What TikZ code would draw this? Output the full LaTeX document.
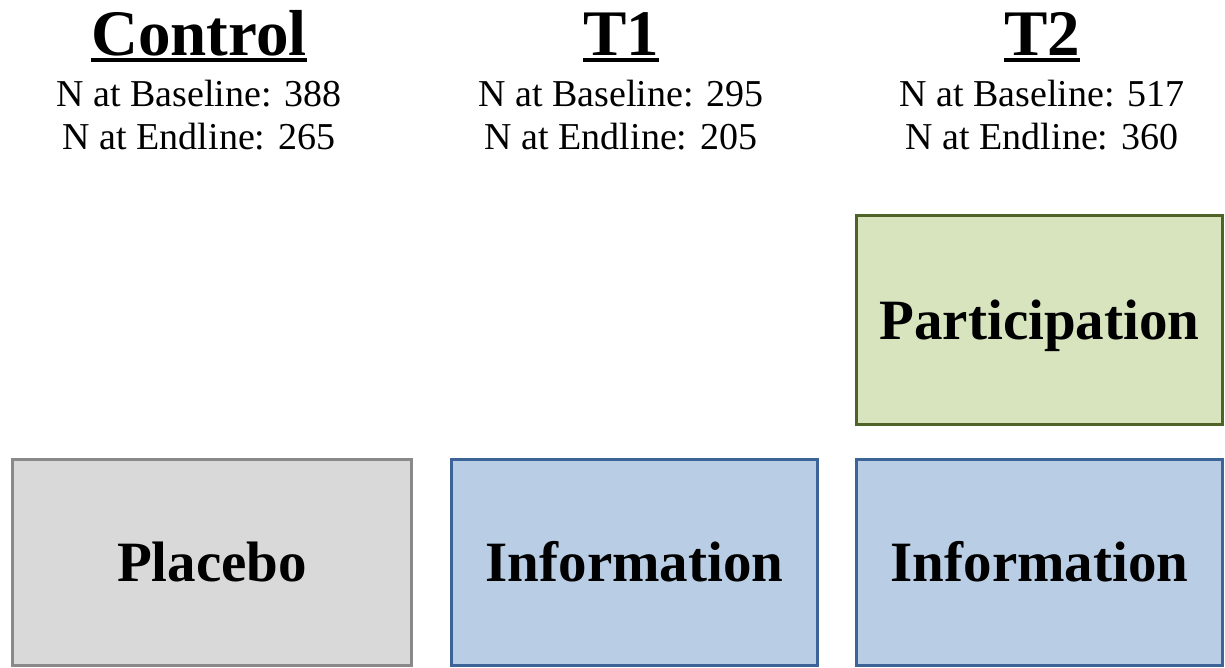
\documentclass[tikz,border=0pt]{standalone}
\usepackage{fontspec}
\setmainfont{Liberation Serif}
\definecolor{grayfill}{HTML}{D9D9D9}
\definecolor{grayline}{HTML}{898989}
\definecolor{bluefill}{HTML}{B9CDE5}
\definecolor{blueline}{HTML}{3C6499}
\definecolor{greenfill}{HTML}{D7E4BD}
\definecolor{greenline}{HTML}{4F6228}
\begin{document}
\begin{tikzpicture}[x=1pt,y=-1pt,
  boxst/.style={draw, line width=3pt, inner sep=0pt, anchor=north west,
    font=\fontsize{57}{60}\selectfont\bfseries, text height=38pt, text depth=0pt},
  titlest/.style={inner sep=0pt, anchor=base, font=\fontsize{65}{70}\selectfont\bfseries},
  nst/.style={inner sep=0pt, anchor=base, font=\fontsize{38}{42}\selectfont}
]
\useasboundingbox (0,0) rectangle (1225,667);
\clip (0,0) rectangle (1225,667);
% boxes
\node[boxst, fill=grayfill, draw=grayline, minimum width=399pt, minimum height=206pt] (placebo) at (11,458) {Placebo};
\node[boxst, fill=bluefill, draw=blueline, minimum width=366pt, minimum height=206pt] (info1) at (450,458) {Information};
\node[boxst, fill=bluefill, draw=blueline, minimum width=366pt, minimum height=206pt] (info2) at (855,458) {Information};
\node[boxst, fill=greenfill, draw=greenline, minimum width=366pt, minimum height=209pt] (part) at (855,214) {Participation};
% titles
\node[titlest] (tc) at (199,55) {Control};
\node[titlest] (t1) at (621,55) {T1};
\node[titlest] (t2) at (1042,55) {T2};
\foreach \t in {tc,t1,t2}{
  \draw[line width=3.5pt] ([yshift=-5pt]\t.base west) -- ([yshift=-5pt]\t.base east);
}
% counts
\node[nst] (cb) at (199,106) {N at Baseline: 388};
\node[nst] (ce) at (199,149) {N at Endline: 265};
\node[nst] (ab) at (621,106) {N at Baseline: 295};
\node[nst] (ae) at (621,149) {N at Endline: 205};
\node[nst] (bb) at (1042,106) {N at Baseline: 517};
\node[nst] (be) at (1042,149) {N at Endline: 360};
\end{tikzpicture}
\end{document}
